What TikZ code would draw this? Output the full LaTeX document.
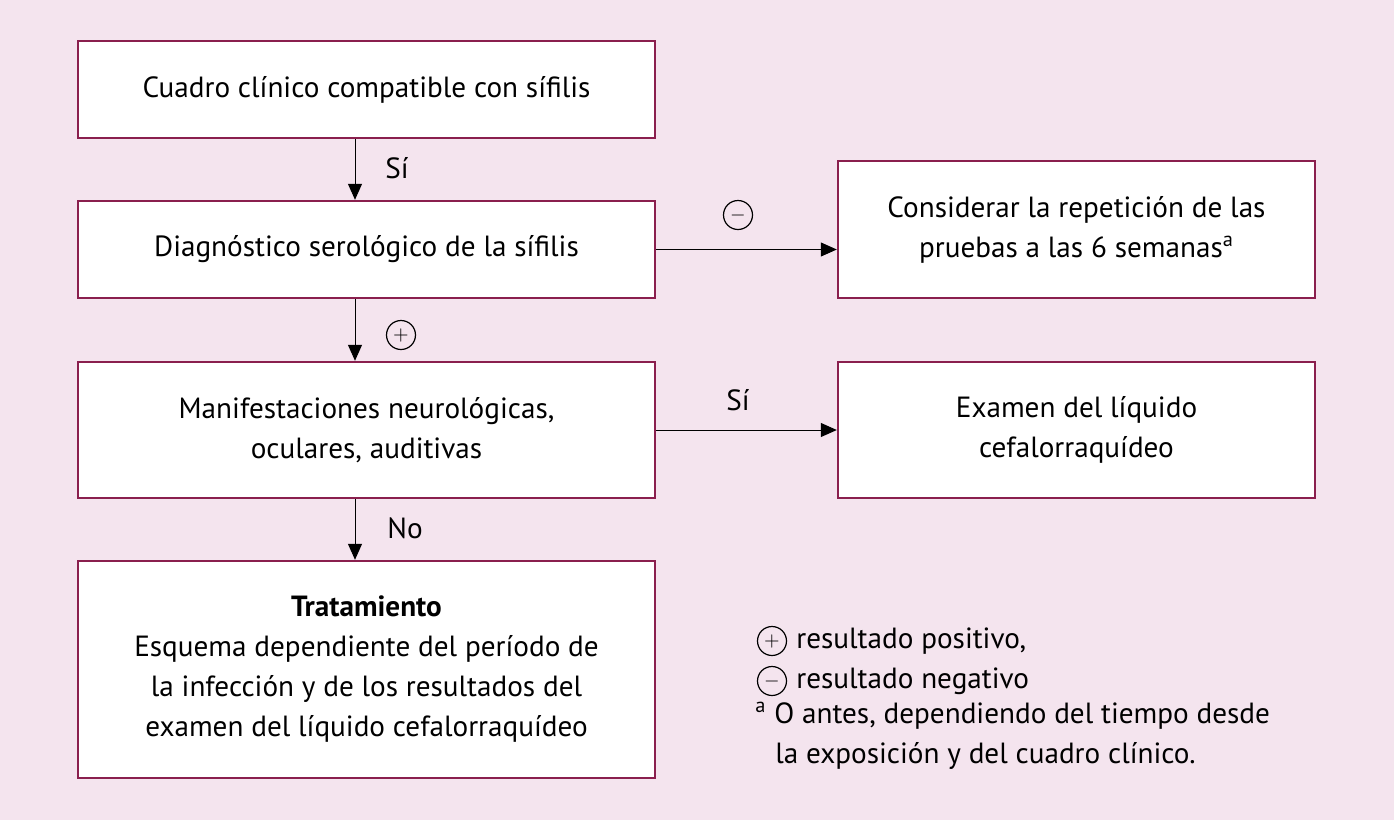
\documentclass[tikz,border=0pt]{standalone}
\usepackage{fontspec}
\setmainfont{PT Sans}
\usetikzlibrary{arrows.meta, positioning}
\definecolor{bgpink}{HTML}{F4E4EE}
\definecolor{frame}{HTML}{8A1F4E}
\tikzset{
  box/.style={draw=frame, line width=1.2pt, fill=white, align=center, inner sep=0pt},
  flow/.style={-{Triangle[length=8pt,width=7pt]}, line width=0.5pt},
  sign/.style={circle, draw, line width=0.6pt, inner sep=0pt, minimum size=14.5pt, font=\normalsize},
  lbl/.style={inner sep=0pt}
}
\begin{document}
\begin{tikzpicture}[x=0.5pt, y=-0.5pt, font=\fontsize{14.6}{20}\selectfont]
  \fill[bgpink] (0,0) rectangle (1394,820);
  \useasboundingbox (0,0) rectangle (1394,820);
  % left column
  \node[box, minimum width=288.5pt, minimum height=48.5pt] (clinic) at (366.5,89.5) {Cuadro clínico compatible con sífilis};
  \node[box, minimum width=288.5pt, minimum height=48.5pt] (sero) at (366.5,249.5) {Diagnóstico serológico de la sífilis};
  \node[box, minimum width=288.5pt, minimum height=68pt] (neuro) at (366.5,430) {Manifestaciones neurológicas,\\oculares, auditivas};
  \node[box, minimum width=288.5pt, minimum height=108.5pt] (treat) at (366.5,669.5) {\textbf{Tratamiento}\\Esquema dependiente del período de\\la infección y de los resultados del\\examen del líquido cefalorraquídeo};
  % right column
  \node[box, minimum width=238.5pt, minimum height=68.5pt] (repeat) at (1076.5,229.5) {Considerar la repetición de las\\pruebas a las 6 semanas\textsuperscript{a}};
  \node[box, minimum width=238.5pt, minimum height=68pt] (lcr) at (1076.5,430) {Examen del líquido\\cefalorraquídeo};
  % connectors
  \draw[flow] (clinic.south -| 355,0) -- (sero.north -| 355,0);
  \draw[flow] (sero.south -| 355,0) -- (neuro.north -| 355,0);
  \draw[flow] (neuro.south -| 355,0) -- (treat.north -| 355,0);
  \draw[flow] (sero.east) -- (sero.east -| repeat.west);
  \draw[flow] (neuro.east) -- (lcr.west);
  \node[lbl] (yes1) at (397,168) {Sí};
  \node[sign] (plus1) at (401,335) {$+$};
  \node[lbl] (no1) at (405,528) {No};
  \node[sign] (minus1) at (738,215) {$-$};
  \node[lbl] (yes2) at (738,400) {Sí};
  % legend
  \node[sign] (lplus) at (772,641) {$+$};
  \node[lbl, anchor=west] (ltpos) at (796,641) {resultado positivo,};
  \node[sign] (lminus) at (772,681) {$-$};
  \node[lbl, anchor=west] (ltneg) at (796,681) {resultado negativo};
  \node[lbl, anchor=north west, align=left] (lnote) at (755,702) {\textsuperscript{a} O antes, dependiendo del tiempo desde\\\hspace*{10pt}la exposición y del cuadro clínico.};
\end{tikzpicture}
\end{document}
